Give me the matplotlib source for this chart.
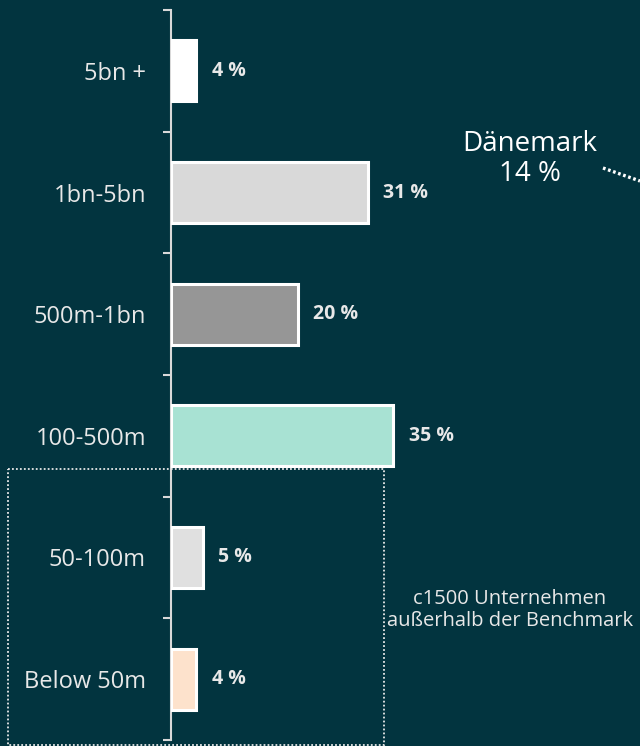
import matplotlib.pyplot as plt
from matplotlib.lines import Line2D
from matplotlib.patches import Rectangle

# data
categories = ['5bn +', '1bn-5bn', '500m-1bn', '100-500m', '50-100m', 'Below 50m']
shares = [4, 31, 20, 35, 5, 4]
labels = ['4 %', '31 %', '20 %', '35 %', '5 %', '4 %']
colors = ['#ffffff', '#d9d9d9', '#969696', '#a8e2d3', '#e0e0e0', '#fde2cc']

BG = '#02343f'
TXT = '#e8e8e8'
plt.rcParams['font.family'] = ['Open Sans', 'DejaVu Sans']

W, H = 640, 746
fig = plt.figure(figsize=(W / 100, H / 100), dpi=100, facecolor=BG)

# main bar axes, placed in pixel terms
ax_left, ax_top, ax_bottom = 171, 10, 740
ax = fig.add_axes([ax_left / W, (H - ax_bottom) / H, (W - ax_left) / W, (ax_bottom - ax_top) / H])
ax.set_facecolor('none')

ypos = list(range(len(categories)))
ax.barh(ypos, shares, height=0.5, color=colors, edgecolor='white', linewidth=2.2, zorder=3)
ax.set_xlim(0, (W - ax_left) / 6.35)
ax.set_ylim(len(categories) - 0.5, -0.5)

for y, v, lab in zip(ypos, shares, labels):
    ax.annotate(lab, (v, y), xytext=(11, 0), textcoords='offset points',
                va='center', ha='left', color=TXT, fontsize=14, fontweight='bold')

ax.set_yticks(ypos)
ax.set_yticklabels(categories, color=TXT, fontsize=17)
ax.tick_params(axis='y', which='major', length=0, pad=18)
ax.set_yticks([y - 0.5 for y in ypos] + [len(categories) - 0.5], minor=True)
ax.tick_params(axis='y', which='minor', length=6, width=1.5, color='#d9d9d9', direction='out')
ax.set_xticks([])
for s in ['top', 'right', 'bottom']:
    ax.spines[s].set_visible(False)
ax.spines['left'].set_color('#d9d9d9')
ax.spines['left'].set_linewidth(1.5)

# overlay in pixel coordinates for annotations
ov = fig.add_axes([0, 0, 1, 1])
ov.set_xlim(0, W)
ov.set_ylim(H, 0)
ov.axis('off')
ov.patch.set_alpha(0)

ov.add_patch(Rectangle((8, 469), 376, 276, fill=False, edgecolor='#e8e8e8',
                       linewidth=1.3, linestyle=(0, (1, 1.2))))
ov.text(510, 610, 'c1500 Unternehmen\naußerhalb der Benchmark', ha='center', va='center',
        color=TXT, fontsize=14.5, linespacing=1.1)

ov.text(530, 159, 'Dänemark\n14 %', ha='center', va='center', color='white',
        fontsize=20, linespacing=1.08)
ov.add_line(Line2D([603, 640], [168, 181], color='white', linewidth=2.4,
                   linestyle=(0, (0.8, 0.8))))

plt.savefig('out.png', dpi=100, facecolor=BG)
